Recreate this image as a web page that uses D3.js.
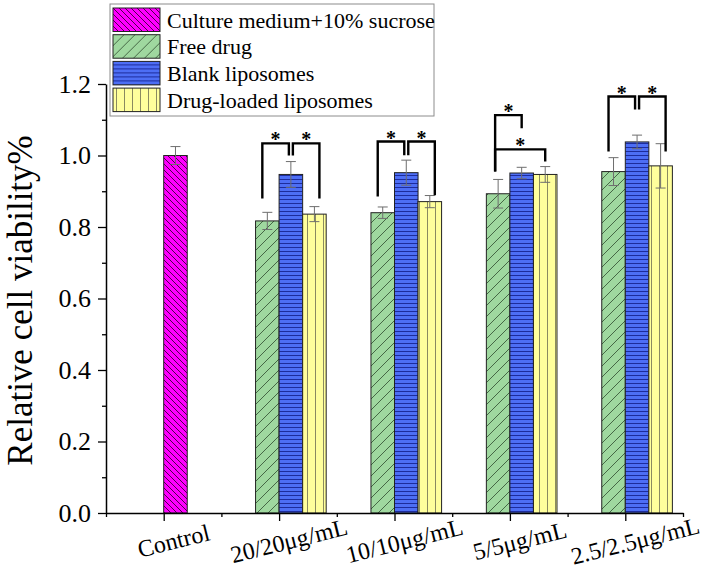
<!DOCTYPE html>
<html>
<head>
<meta charset="utf-8">
<script src="https://cdn.jsdelivr.net/npm/d3@7/dist/d3.min.js"></script>
<style>
  html, body { margin: 0; padding: 0; background: #fff; }
  svg { display: block; }
  text { font-family: "Liberation Serif", "Times New Roman", "DejaVu Serif", serif; }
</style>
</head>
<body>
<svg id="chart" width="708" height="572"></svg>
<script>
// ---------------- DATA ----------------
const categories = ["Control", "20/20μg/mL", "10/10μg/mL", "5/5μg/mL", "2.5/2.5μg/mL"];
const seriesNames = ["Culture medium+10% sucrose", "Free drug", "Blank liposomes", "Drug-loaded liposomes"];

const controlValues   = [1.000, null, null, null, null];
const controlErrors   = [0.025, null, null, null, null];
const freeDrugValues  = [null, 0.817, 0.840, 0.893, 0.955];
const freeDrugErrors  = [null, 0.024, 0.016, 0.040, 0.039];
const blankValues     = [null, 0.947, 0.952, 0.951, 1.038];
const blankErrors     = [null, 0.036, 0.035, 0.016, 0.019];
const loadedValues    = [null, 0.836, 0.871, 0.947, 0.971];
const loadedErrors    = [null, 0.021, 0.017, 0.022, 0.062];

const yTickValues = [0.0, 0.2, 0.4, 0.6, 0.8, 1.0, 1.2];
const yTitle = "Relative cell viability%";

// significance brackets: category, from series, to series, top value, left leg end, right leg end
const brackets = [
  { cat: 1, from: 1, to: 2, top: 1.034, left: 0.880, right: 1.000 },
  { cat: 1, from: 2, to: 3, top: 1.034, left: 1.000, right: 0.880 },
  { cat: 2, from: 1, to: 2, top: 1.039, left: 0.885, right: 1.001 },
  { cat: 2, from: 2, to: 3, top: 1.039, left: 1.001, right: 0.889 },
  { cat: 3, from: 1, to: 2, top: 1.113, left: 0.955, right: 1.076 },
  { cat: 3, from: 1, to: 3, top: 1.017, left: 0.955, right: 0.983 },
  { cat: 4, from: 1, to: 2, top: 1.165, left: 1.011, right: 1.129 },
  { cat: 4, from: 2, to: 3, top: 1.165, left: 1.129, right: 1.011 }
];

// ---------------- LAYOUT ----------------
const svg = d3.select("#chart");
const x = d3.scaleLinear().domain([-0.5, categories.length - 0.5]).range([106, 683]);
const y = d3.scaleLinear().domain([0, 1.2]).range([513, 84]);
const barW = 0.204; // in category units
const slotOffset = [0, -1, 0, 1]; // bar slot relative to category tick

const series = [
  { name: seriesNames[0], values: controlValues, errors: controlErrors, fill: "url(#pMag)" },
  { name: seriesNames[1], values: freeDrugValues, errors: freeDrugErrors, fill: "url(#pGreen)" },
  { name: seriesNames[2], values: blankValues, errors: blankErrors, fill: "url(#pBlue)" },
  { name: seriesNames[3], values: loadedValues, errors: loadedErrors, fill: "url(#pYellow)" }
];

// ---------------- PATTERNS ----------------
const defs = svg.append("defs");
function pattern(id, size, bg, lines, stroke, sw) {
  const p = defs.append("pattern").attr("id", id).attr("patternUnits", "userSpaceOnUse")
    .attr("width", size[0]).attr("height", size[1]);
  p.append("rect").attr("width", size[0]).attr("height", size[1]).attr("fill", bg);
  lines.forEach(l => p.append("line").attr("x1", l[0]).attr("y1", l[1]).attr("x2", l[2]).attr("y2", l[3])
    .attr("stroke", stroke).attr("stroke-width", sw));
}
pattern("pMag", [6, 6], "#ff00ff", [[0, 0, 6, 6], [-1, 5, 1, 7], [5, -1, 7, 1]], "#3a003a", 0.9);
pattern("pGreen", [11, 11], "#9fd89f", [[0, 11, 11, 0], [-1, 1, 1, -1], [10, 12, 12, 10]], "#2f4a2f", 0.8);
pattern("pBlue", [4, 4], "#4d6ef5", [[0, 3.5, 4, 3.5]], "#1d2c9c", 1);
pattern("pYellow", [8, 8], "#ffff9c", [[3.5, 0, 3.5, 8]], "#8a8a60", 1);

// ---------------- BARS ----------------
const bx = (si, ci) => x(ci + slotOffset[si] * barW);
const bwPx = x(barW) - x(0);
const cx = (si, ci) => bx(si, ci) + bwPx / 2;

series.forEach((s, si) => {
  const pts = s.values.map((v, ci) => ({ v, e: s.errors[ci], ci })).filter(d => d.v != null);
  const g = svg.append("g");
  g.selectAll("rect").data(pts).join("rect")
    .attr("x", d => bx(si, d.ci)).attr("y", d => y(d.v))
    .attr("width", bwPx).attr("height", d => y(0) - y(d.v))
    .attr("fill", s.fill).attr("stroke", "#222").attr("stroke-width", 1);
  // error bars
  const eg = svg.append("g").attr("stroke", "#6e6e6e").attr("stroke-width", 1).attr("fill", "none");
  pts.forEach(d => {
    const c = cx(si, d.ci);
    eg.append("line").attr("x1", c).attr("x2", c).attr("y1", y(d.v + d.e)).attr("y2", y(d.v - d.e));
    eg.append("line").attr("x1", c - 5).attr("x2", c + 5).attr("y1", y(d.v + d.e)).attr("y2", y(d.v + d.e));
    eg.append("line").attr("x1", c - 5).attr("x2", c + 5).attr("y1", y(d.v - d.e)).attr("y2", y(d.v - d.e));
  });
});

// ---------------- BRACKETS ----------------
const bg = svg.append("g");
brackets.forEach(b => {
  const wide = (b.cat === 3);
  const nudge = (si, isLeft) => {
    if (wide) return si === 1 ? -3 : 0;
    if (si === 1) return -5;
    if (si === 3) return 5;
    return isLeft ? 2 : -2;
  };
  const xl = cx(b.from, b.cat) + nudge(b.from, true);
  const xr = cx(b.to, b.cat) + nudge(b.to, false);
  const yt = y(b.top);
  bg.append("path")
    .attr("d", `M${xl},${y(b.left)}V${yt}H${xr}V${y(b.right)}`)
    .attr("fill", "none").attr("stroke", "#000").attr("stroke-width", 2.4);
  bg.append("text").attr("x", (xl + xr) / 2).attr("y", yt + 3)
    .attr("text-anchor", "middle").attr("font-size", 20).attr("font-weight", "bold").text("*");
});

// ---------------- AXES ----------------
const yAxis = svg.append("g").attr("transform", `translate(${x(-0.5)},0)`)
  .call(d3.axisLeft(y).tickValues(yTickValues).tickSize(8).tickSizeOuter(0).tickFormat(d3.format(".1f")));
yAxis.selectAll("text").attr("font-size", 26).attr("font-family", "Liberation Serif").attr("fill", "#000").attr("dx", -4);
svg.append("g").attr("transform", `translate(${x(-0.5)},0)`)
  .call(d3.axisLeft(y).tickValues(d3.range(0.1, 1.2, 0.2)).tickSize(4).tickFormat(""))
  .call(g => g.select(".domain").remove());

svg.append("g").attr("transform", `translate(0,${y(0)})`)
  .call(d3.axisBottom(x).tickValues(d3.range(categories.length)).tickSize(8).tickSizeOuter(0).tickFormat(""));
svg.append("g").attr("transform", `translate(0,${y(0)})`)
  .call(d3.axisBottom(x).tickValues(d3.range(-0.5, categories.length, 1)).tickSize(4).tickFormat(""))
  .call(g => g.select(".domain").remove());

svg.selectAll(".domain").attr("stroke-width", 1.5);
svg.selectAll(".tick line").attr("stroke-width", 1.3);

// category labels
svg.append("g").selectAll("text").data(categories).join("text")
  .attr("transform", (d, i) => `translate(${x(i) + 10},541) rotate(-14)`)
  .attr("text-anchor", "middle").attr("dominant-baseline", "central")
  .attr("font-size", 24).text(d => d);

// y title
svg.append("text").attr("transform", `translate(32,${(y(0) + y(1.2)) / 2 + 2}) rotate(-90)`)
  .attr("text-anchor", "middle").attr("font-size", 35).text(yTitle);

// ---------------- LEGEND ----------------
const lg = svg.append("g").attr("transform", "translate(110,4)");
lg.append("rect").attr("width", 324).attr("height", 112).attr("fill", "#fff")
  .attr("stroke", "#8c8c8c").attr("stroke-width", 1);
series.forEach((s, i) => {
  const row = lg.append("g").attr("transform", `translate(3,${4 + i * 26.7})`);
  row.append("rect").attr("width", 47).attr("height", 23.5).attr("fill", s.fill)
    .attr("stroke", "#222").attr("stroke-width", 1);
  row.append("text").attr("x", 54).attr("y", 19.5).attr("font-size", 22).text(s.name);
});
</script>
</body>
</html>
